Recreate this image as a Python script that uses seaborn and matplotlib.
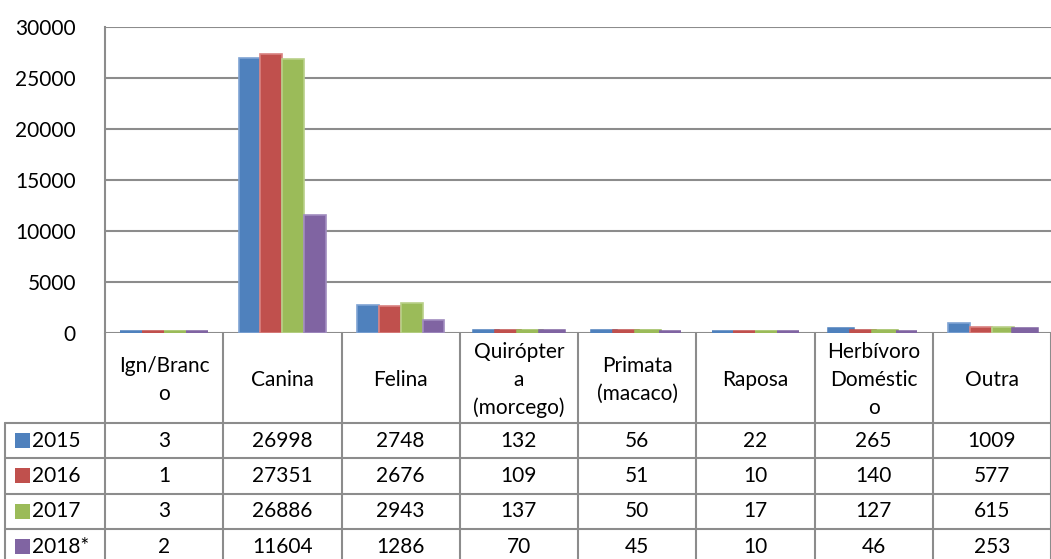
import numpy as np
import pandas as pd
import matplotlib
matplotlib.use("Agg")
import matplotlib.pyplot as plt
from matplotlib.lines import Line2D
from matplotlib.patches import Rectangle
from matplotlib.transforms import blended_transform_factory
import seaborn as sns

# ── data ─────────────────────────────────────────────────────────────────────
categories = ["Ign/Branc\no", "Canina", "Felina", "Quirópter\na\n(morcego)",
              "Primata\n(macaco)", "Raposa", "Herbívoro\nDoméstic\no", "Outra"]
years = ["2015", "2016", "2017", "2018*"]
v2015 = [3, 26998, 2748, 132, 56, 22, 265, 1009]
v2016 = [1, 27351, 2676, 109, 51, 10, 140, 577]
v2017 = [3, 26886, 2943, 137, 50, 17, 127, 615]
v2018 = [2, 11604, 1286, 70, 45, 10, 46, 253]
yticks = [0, 5000, 10000, 15000, 20000, 25000, 30000]

colors = ["#4F81BD", "#C0504D", "#9BBB59", "#8064A2"]
edges  = ["#7FA3D3", "#D98280", "#B9D089", "#A18CBF"]
GRID = "#8C8C8C"
TXT = "#000000"

series = [v2015, v2016, v2017, v2018]
df = pd.DataFrame({
    "cat": np.tile(categories, len(years)),
    "year": np.repeat(years, len(categories)),
    "val": np.concatenate(series),
})

# ── figure ───────────────────────────────────────────────────────────────────
sns.set_style("white")
plt.rcParams["font.family"] = ["Lato", "DejaVu Sans"]
FS = 15

W, H = 1051, 559
fig = plt.figure(figsize=(W / 100, H / 100), dpi=100)
ax = fig.add_axes([105 / W, (H - 333) / H, (W - 105) / W, (333 - 27) / H])

sns.barplot(data=df, x="cat", y="val", hue="year", palette=colors, saturation=1,
            width=0.74, gap=0, legend=False, ax=ax, linewidth=1.2)
for cont, c, ec in zip(ax.containers, colors, edges):
    for bar in cont:
        bar.set_edgecolor(ec)
        # Excel draws even tiny values as a thin visible sliver
        if bar.get_height() < 300:
            bar.set_edgecolor(c)
            bar.set_linewidth(4)

ax.set_xlim(-0.5, len(categories) - 0.5)
ax.set_ylim(0, 30000)
ax.set_yticks(yticks)
ax.set_yticklabels([str(t) for t in yticks], fontsize=FS, color=TXT)
ax.tick_params(axis="y", length=0, pad=21)
ax.set_xticks([])
ax.set_xlabel("")
ax.set_ylabel("")
ax.yaxis.grid(True, color=GRID, linewidth=1.5)
ax.set_axisbelow(True)
for s in ["top", "right", "bottom"]:
    ax.spines[s].set_visible(False)
ax.spines["left"].set_color(GRID)
ax.spines["left"].set_linewidth(1.5)

# ── data table below the axes ────────────────────────────────────────────────
tr = blended_transform_factory(ax.transData, fig.transFigure)
fy = lambda py: (H - py) / H
fx = lambda px: px / W

y_top, y_head = 333, 423
row_h = 35.3
row_lines = [y_head + row_h * i for i in range(5)]
n = len(categories)
lw = 1.5

# vertical lines of category columns
for i in range(n + 1):
    fig.add_artist(Line2D([i - 0.5, i - 0.5], [fy(y_top), fy(H + 5)],
                          transform=tr, color=GRID, linewidth=lw))
# header bottom and row lines
for k, yy in enumerate(row_lines):
    fig.add_artist(Line2D([fx(5), fx(W)], [fy(yy), fy(yy)],
                          transform=fig.transFigure, color=GRID, linewidth=lw))
fig.add_artist(Line2D([fx(5), fx(5)], [fy(y_head), fy(H + 5)],
                      transform=fig.transFigure, color=GRID, linewidth=lw))

# header text
for i, c in enumerate(categories):
    fig.text(i, fy((y_top + y_head) / 2 + 2), c, transform=tr, ha="center", va="center",
             multialignment="center", fontsize=FS, linespacing=1.5, color=TXT)

# row labels with colour keys and values
for r, (yr, vals) in enumerate(zip(years, series)):
    yc = fy(y_head + row_h * (r + 0.5))
    fig.add_artist(Rectangle((fx(15), yc - 7.5 / H), 15 / W, 15 / H,
                             transform=fig.transFigure, facecolor=colors[r],
                             edgecolor="none"))
    fig.text(fx(32), yc, yr, ha="left", va="center", fontsize=FS, color=TXT)
    for i, v in enumerate(vals):
        fig.text(i, yc, str(v), transform=tr, ha="center", va="center",
                 fontsize=FS, color=TXT)

fig.savefig("out.png", dpi=100)
